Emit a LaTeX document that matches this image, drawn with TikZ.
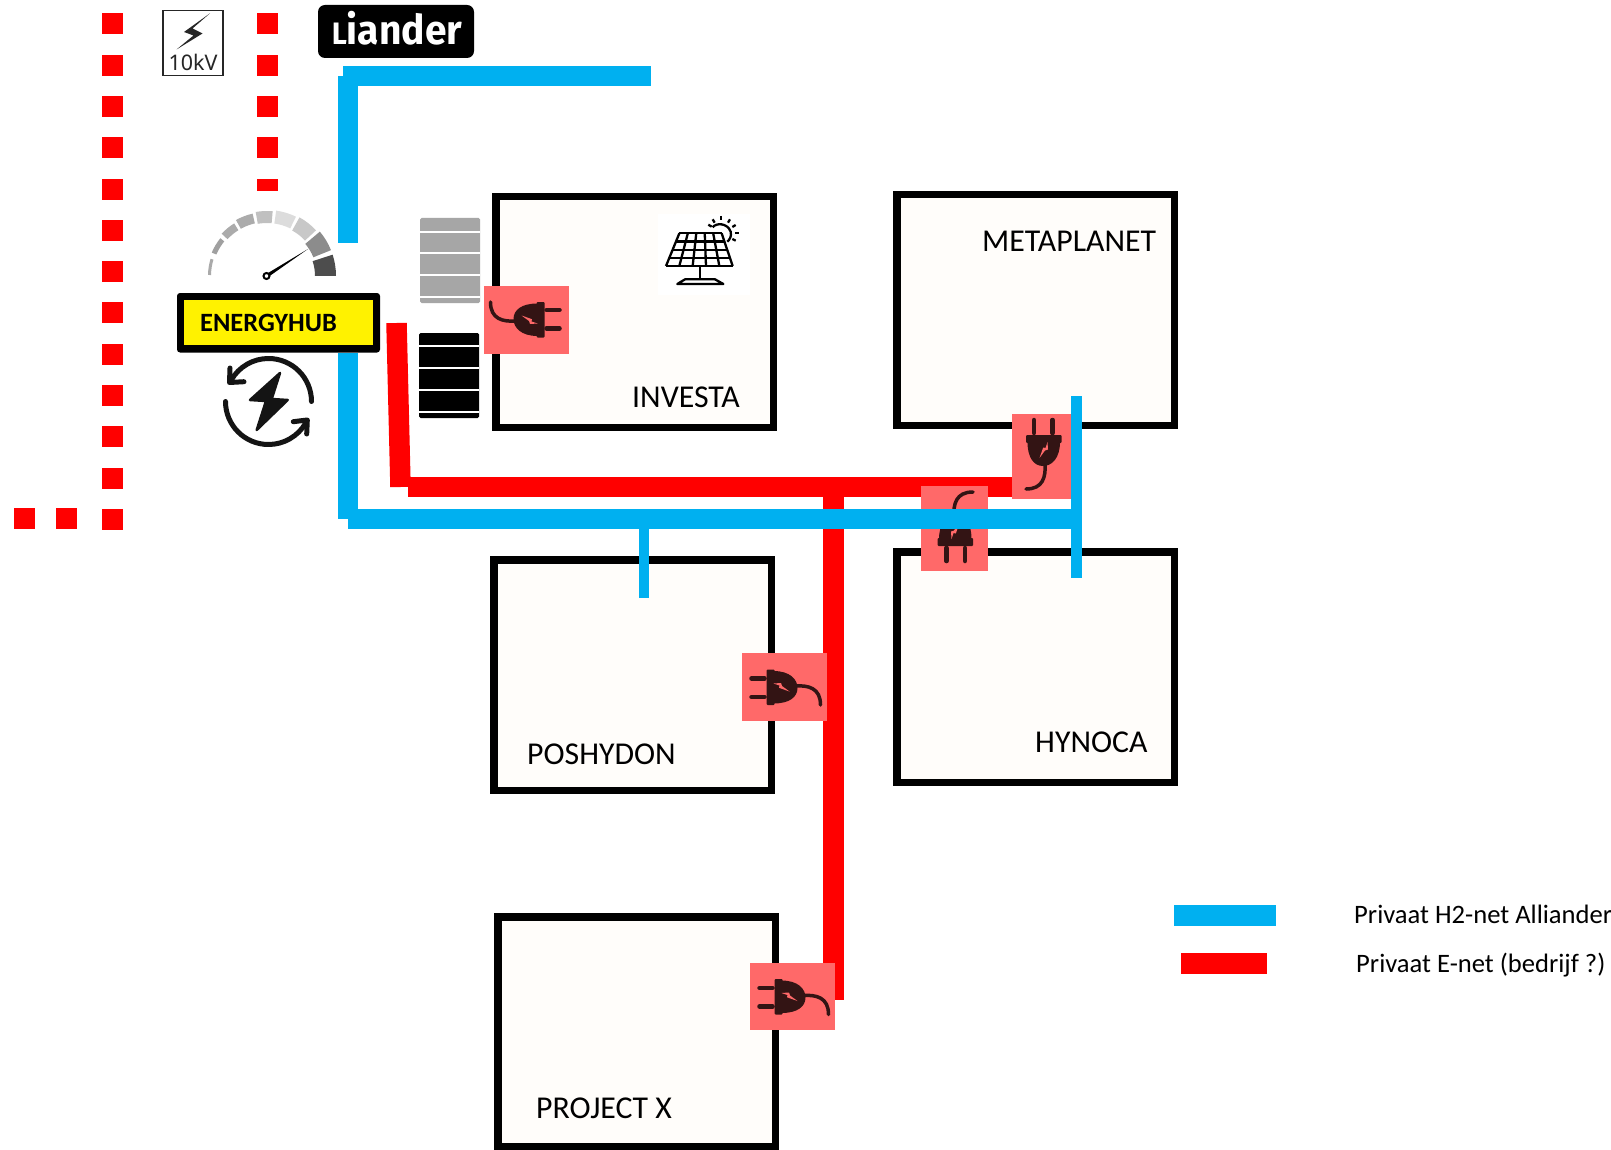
\documentclass[tikz,border=0pt]{standalone}
\usepackage{fontspec}
\setmainfont{Carlito}
\newfontfamily\logofont{Fira Sans}
\newfontfamily\kvfont{Noto Sans}
\definecolor{hblue}{HTML}{00B0F0}
\definecolor{ered}{HTML}{FF0000}
\definecolor{plugbg}{HTML}{FF6969}
\definecolor{plugfg}{HTML}{331414}
\definecolor{boxfill}{HTML}{FFFDFA}
\definecolor{hubyellow}{HTML}{FFF200}
\definecolor{batgray}{HTML}{A6A6A6}
\tikzset{
  plantbox/.style={draw=black,line width=7.5pt,fill=boxfill,inner sep=0,outer sep=0},
  plantlabel/.style={anchor=base west,inner sep=0,font=\fontsize{31.8}{38}\selectfont},
  legendlabel/.style={anchor=base west,inner sep=0,font=\fontsize{26.6}{32}\selectfont},
  hline/.style={draw=hblue,line width=20.5pt},
  hthin/.style={draw=hblue,line width=10.5pt},
  eline/.style={draw=ered,line width=20.5pt},
  dot/.style={fill=ered,inner sep=0,minimum width=21pt,minimum height=21pt,outer sep=0},
  plugsq/.style={fill=plugbg,inner sep=0,outer sep=0},
  plugicon/.pic={
    \draw[plugfg,line width=4.5pt,line cap=round] (-33,-8.5) -- (-20,-8.5) (-33,10) -- (-20,10);
    \fill[plugfg,rounded corners=1pt] (-18,-17.5) rectangle (-10,18);
    \fill[plugfg] (-11,-16) .. controls (5,-16) and (13,-8) .. (13,1) .. controls (13,10) and (5,16.5) .. (-11,16.5) -- cycle;
    \draw[plugfg,line width=3.5pt,line cap=round] (10,-1) .. controls (24,-2) and (36,1) .. (36,18);
    \fill[plugbg] (-11,-3.5) -- (-3.5,-4) -- (-2.5,-1) -- (5,4.5) -- (-5.5,0.8) -- (-5,-1.5) -- cycle;
  },
  batstripe/.style={white,line width=2pt},
}
\begin{document}
\begin{tikzpicture}[x=1pt,y=-1pt]
\useasboundingbox (0,0) rectangle (1611,1150);
\fill[white] (0,0) rectangle (1611,1150);

% dotted 10 kV lines
\foreach \k in {0,...,12} \node[dot] (da\k) at (112.5,{24+41.28*\k}) {};
\node[dot] (db1) at (24.5,518.5) {};
\node[dot] (db2) at (66.5,518.5) {};
\foreach \k in {0,...,3} \node[dot] (dc\k) at (267.5,{24+41.28*\k}) {};
\node[dot,minimum height=12pt] (dc4) at (267.5,185) {};

% 10 kV sign
\node[draw=black!85,line width=1.2pt,fill=white,minimum width=60pt,minimum height=65pt,inner sep=0] (kv) at (193,43) {};
\fill[black!85] (210,13.3) -- (184,32) -- (193.5,35.5) -- (176.5,49.5) -- (202.5,33.5) -- (192.5,28.5) -- cycle;
\node[anchor=base,inner sep=0,text=black!85,font=\kvfont\fontsize{21.5}{26}\selectfont] (kvt) at (193,70.7) {10kV};

% logo
\node[fill=black,rounded corners=7pt,minimum width=156pt,minimum height=53pt,inner sep=0] (logo) at (396,31.5) {};
\node[anchor=base,inner sep=0,text=white,font=\logofont\fontsize{41}{46}\selectfont] (logot) at (397,45) {\scalebox{0.95}[1]{\bfseries{\fontsize{31}{46}\selectfont L}iander}};

% company boxes
\node[plantbox,minimum width=277.5pt,minimum height=230.5pt] (investa) at (634.5,312) {};
\node[plantbox,minimum width=277.5pt,minimum height=230.5pt] (metaplanet) at (1035.5,310) {};
\node[plantbox,minimum width=277.5pt,minimum height=230.5pt] (hynoca) at (1035.5,667) {};
\node[plantbox,minimum width=277.5pt,minimum height=230.5pt] (poshydon) at (632.5,675) {};
\node[plantbox,minimum width=277.5pt,minimum height=229.5pt] (projectx) at (636.5,1031.5) {};
\node[plantlabel] (linvesta) at (632,407) {INVESTA};
\node[plantlabel] (lmeta) at (982,252) {METAPLANET};
\node[plantlabel] (lhynoca) at (1035,752) {HYNOCA};
\node[plantlabel] (lposh) at (527,764) {POSHYDON};
\node[plantlabel] (lproj) at (536,1118) {PROJECT X};

% solar panel
\fill[white] (658,214) rectangle (750,295);
\begin{scope}[shift={(640,190)},xscale=1/3,yscale=1/3]
  \foreach \t in {0,0.2,0.4,0.6,0.8,1}
    \draw[black,line width=2.3pt] ({118+127*\t},130) -- ({78+200*\t},228);
  \foreach \t in {0,0.25,0.5,0.75,1}
    \draw[black,line width=2.3pt] ({118-40*\t},{130+98*\t}) -- ({245+33*\t},{130+98*\t});
  \draw[black,line width=2.3pt] (180,228) -- (180,268);
  \draw[black,line width=2.3pt,line join=round] (135,268) -- (225,268) -- (250,282) -- (112,282) -- cycle;
  \draw[black,line width=2.3pt] (218,112) .. controls (228,98) and (262,98) .. (272,125) .. controls (275,138) and (270,148) .. (262,155);
  \foreach \a/\b/\c/\d in {205/104/215/110, 218/88/224/98, 243/78/243/90, 270/88/264/98, 287/105/277/111, 296/128/284/128, 287/152/277/147}
    \draw[black,line width=2.3pt] (\a,\b) -- (\c,\d);
\end{scope}

% batteries
\fill[batgray,rounded corners=1.5pt] (420,218) rectangle (480,303);
\foreach \y in {232,253,275,297} \draw[batstripe] (420,\y) -- (480,\y);
\fill[black,rounded corners=1.5pt] (419,333) rectangle (479,418);
\foreach \y in {346,368,390,412} \draw[batstripe] (419,\y) -- (479,\y);

% gauge
\begin{scope}[shift={(267,276)}]
\foreach \aa/\ab/\ro/\ri/\col in {
  0/18/69/48/4D4D4D, 22/40/69/50/8C8C8C, 43/61/67/52/C8C8C8, 64/82/66/53/DCDCDC,
  85/100/65/53/C0C0C0, 103/119/64/54/ABABAB, 122/137/62/54/ABABAB, 141/157/60/55/A0A0A0, 163/179/59/56/AAAAAA}{
  \definecolor{segc}{HTML}{\col}
  \fill[segc] (\aa:\ro pt) arc[start angle=\aa,end angle=\ab,radius=\ro pt] -- (\ab:\ri pt) arc[start angle=\ab,end angle=\aa,radius=\ri pt] -- cycle;
}
\end{scope}
\coordinate (needlebase) at (266.5,276);
\coordinate (needletip) at (308,249);
\fill[black] (265.5,274.5) -- (needletip) -- (267.5,277.5) -- cycle;
\node[circle,draw=black,line width=2pt,fill=white,minimum size=6pt,inner sep=0] (hubpin) at (needlebase) {};

% private E-net
\coordinate (ea) at (396.5,323);
\coordinate (eb) at (400.5,487);
\coordinate (ec) at (1014,487);
\coordinate (ed) at (833.5,477);
\coordinate (ee) at (833.5,1000);
\draw[eline] (ea) -- (eb);
\draw[eline] (408,487) -- (ec);
\draw[eline] (ed) -- (ee);

% plugs
\node[plugsq,minimum width=85pt,minimum height=68pt] (pluga) at (526.5,320) {};
\pic[rotate=180] at (526.5,320) {plugicon};
\node[plugsq,minimum width=59pt,minimum height=85pt] (plugb) at (1041.5,456.5) {};
\pic[rotate=-90] at (1044,453) {plugicon};
\node[plugsq,minimum width=67pt,minimum height=85pt] (plugc) at (954.5,528.5) {};
\pic[rotate=90] at (955,528) {plugicon};
\node[plugsq,minimum width=85pt,minimum height=68pt] (plugd) at (784.5,687) {};
\pic at (784.5,687) {plugicon};
\node[plugsq,minimum width=85pt,minimum height=67pt] (pluge) at (792.5,996.5) {};
\pic at (792.5,996.5) {plugicon};

% private H2-net
\coordinate (ha) at (348,76);
\coordinate (hb) at (348,243);
\coordinate (hc) at (343,76);
\coordinate (hd) at (651,76);
\coordinate (he) at (348,353);
\coordinate (hf) at (348,519);
\coordinate (hg) at (348,519);
\coordinate (hh) at (1072,519);
\coordinate (hi) at (644,529);
\coordinate (hj) at (644,598);
\coordinate (hk) at (1076.5,396);
\coordinate (hl) at (1076.5,578);
\draw[hline] (ha) -- (hb);
\draw[hline] (hc) -- (hd);
\draw[hline] (he) -- (hf);
\draw[hline] (hg) -- (hh);
\draw[hthin] (hi) -- (hj);
\draw[hthin] (hk) -- (hl);

% energy hub
\node[fill=black,rounded corners=3pt,minimum width=203pt,minimum height=59.5pt,inner sep=0] (hubo) at (278.5,322.75) {};
\node[fill=hubyellow,minimum width=189pt,minimum height=45pt,inner sep=0] (hubi) at (278.5,322.5) {};
\node[anchor=base west,inner sep=0,font=\bfseries\fontsize{26.4}{30}\selectfont] (hubt) at (200,331) {ENERGYHUB};

% exchange icon
\begin{scope}[line width=5pt,black!92,line cap=round,line join=round]
\draw (311.5,401.5) arc[start angle=0,end angle=150,radius=43pt];
\draw (225.5,401.5) arc[start angle=180,end angle=330,radius=43pt];
\draw (230,368) -- (229.5,382.5) -- (244,381.7);
\draw (293.3,421.7) -- (307.3,420) -- (306.7,434);
\fill (280,373) -- (250,400) -- (266,401) -- (256.7,430) -- (287.7,400) -- (271.7,399) -- cycle;
\draw[line width=2.5pt] (280,373) -- (250,400) -- (266,401) -- (256.7,430) -- (287.7,400) -- (271.7,399) -- cycle;
\end{scope}

% legend
\coordinate (la) at (1174,915.5);
\coordinate (lb) at (1276,915.5);
\coordinate (lc) at (1181,963.5);
\coordinate (ld) at (1267,963.5);
\draw[hline] (la) -- (lb);
\draw[eline] (lc) -- (ld);
\node[legendlabel] (lt1) at (1354,923) {Privaat H2-net Alliander};
\node[legendlabel] (lt2) at (1356,972) {Privaat E-net (bedrijf ?)};
\end{tikzpicture}
\end{document}
